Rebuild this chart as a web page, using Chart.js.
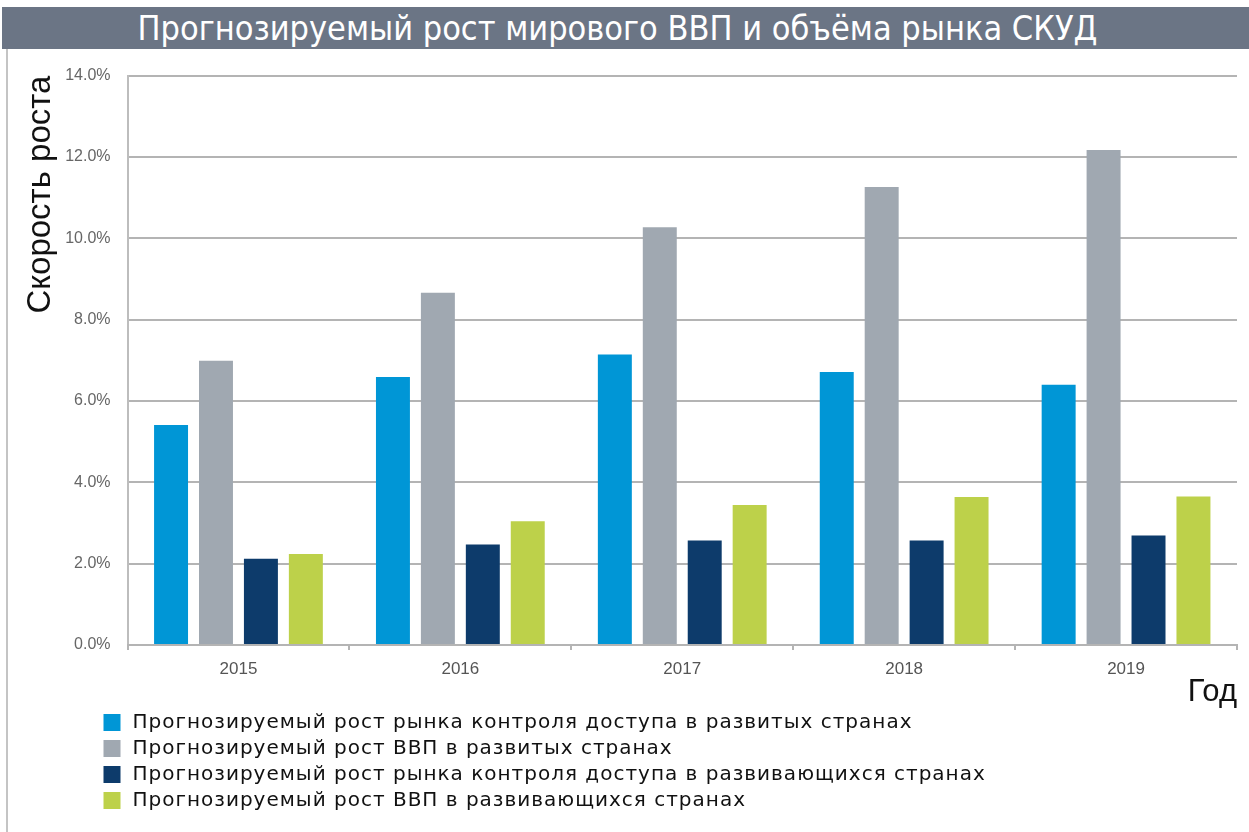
<!DOCTYPE html>
<html lang="ru">
<head>
<meta charset="utf-8">
<title>Прогнозируемый рост мирового ВВП и объёма рынка СКУД</title>
<script src="https://cdn.jsdelivr.net/npm/chart.js@4.4.1/dist/chart.umd.min.js"></script>
<style>
  body { margin: 0; background: #fff; width: 1249px; height: 832px; overflow: hidden; position: relative; }
  #header {
    position: absolute; left: 2px; top: 7px; width: 1231px; height: 42px; padding-right: 16px;
    background: #6b7585; color: #fff; text-align: center;
    font-family: "Liberation Sans Narrow", "DejaVu Sans Condensed", sans-serif;
    font-size: 34px; line-height: 42px; white-space: nowrap;
  }
  #frame { position: absolute; left: 6px; top: 49px; width: 2px; height: 783px; background: #c4c4c4; }
  #wrap { position: absolute; left: 0; top: 49px; width: 1249px; height: 783px; }
</style>
</head>
<body>
<div id="header">Прогнозируемый рост мирового ВВП и объёма рынка СКУД</div>
<div id="frame"></div>
<div id="wrap"><canvas id="growthChart"></canvas></div>
<script>
const years = ['2015', '2016', '2017', '2018', '2019'];
const accessDeveloped = [5.41, 6.59, 7.14, 6.71, 6.40];
const gdpDeveloped = [6.99, 8.66, 10.27, 11.26, 12.17];
const accessDeveloping = [2.12, 2.47, 2.57, 2.57, 2.69];
const gdpDeveloping = [2.24, 3.04, 3.44, 3.64, 3.65];

const seriesNames = [
    'Прогнозируемый рост рынка контроля доступа в развитых странах',
    'Прогнозируемый рост ВВП в развитых странах',
    'Прогнозируемый рост рынка контроля доступа в развивающихся странах',
    'Прогнозируемый рост ВВП в развивающихся странах'
];
const seriesColors = ['#0096d6', '#a0a8b1', '#0d3b6b', '#bdd14a'];

// Легенда столбиком под осью X
const legendRows = {
    id: 'legendRows',
    afterDraw(chart) {
        const ctx = chart.ctx;
        const x0 = chart.chartArea.left - 24;
        const y0 = chart.scales.x.bottom + 11;
        ctx.save();
        ctx.font = '20px "DejaVu Sans", Verdana, sans-serif';
        ctx.letterSpacing = '1px';
        ctx.textBaseline = 'middle';
        chart.data.datasets.forEach((ds, i) => {
            const y = y0 + i * 26;
            ctx.fillStyle = ds.backgroundColor;
            ctx.fillRect(x0, y - 8, 17, 17);
            ctx.fillStyle = '#111';
            ctx.fillText(ds.label, x0 + 29, y + 1);
        });
        ctx.restore();
    }
};

const seriesData = [accessDeveloped, gdpDeveloped, accessDeveloping, gdpDeveloping];

const ctx = document.getElementById('growthChart').getContext('2d');
const chart = new Chart(ctx, {
    type: 'bar',
    data: {
        labels: years,
        datasets: seriesData.map((d, i) => ({
            label: seriesNames[i],
            data: d,
            backgroundColor: seriesColors[i],
            borderWidth: 0,
            categoryPercentage: 0.81,
            barPercentage: 0.756
        }))
    },
    options: {
        responsive: true,
        maintainAspectRatio: false,
        animation: false,
        layout: { padding: { left: 0, top: 22, right: 12, bottom: 121 } },
        plugins: {
            legend: { display: false },
            tooltip: { enabled: false }
        },
        scales: {
            y: {
                min: 0,
                max: 14,
                ticks: {
                    stepSize: 2,
                    padding: 17,
                    color: '#666',
                    font: { family: '"Liberation Sans", Arial, sans-serif', size: 16 },
                    callback: v => v.toFixed(1) + '%'
                },
                grid: { color: '#b4b4b4', lineWidth: 2, drawTicks: false },
                border: { color: '#bdbdbd', width: 2 },
                title: {
                    display: true,
                    text: 'Скорость роста',
                    align: 'end',
                    color: '#111',
                    font: { family: '"Liberation Sans", Arial, sans-serif', size: 33 },
                    padding: { top: 21, bottom: 0 }
                },
                afterFit: s => { s.width = 127.5; }
            },
            x: {
                grid: { drawOnChartArea: false, drawTicks: true, tickLength: 5, color: '#b4b4b4', lineWidth: 2 },
                border: { color: '#b4b4b4', width: 2 },
                ticks: {
                    padding: 9,
                    color: '#555',
                    font: { family: '"Liberation Sans", Arial, sans-serif', size: 17 }
                },
                title: {
                    display: true,
                    text: 'Год',
                    align: 'end',
                    color: '#111',
                    font: { family: '"Liberation Sans", Arial, sans-serif', size: 31 },
                    padding: { top: 0, bottom: 0 }
                },
                afterFit: s => { s.height = 66; }
            }
        }
    },
    plugins: [legendRows]
});
</script>
</body>
</html>
